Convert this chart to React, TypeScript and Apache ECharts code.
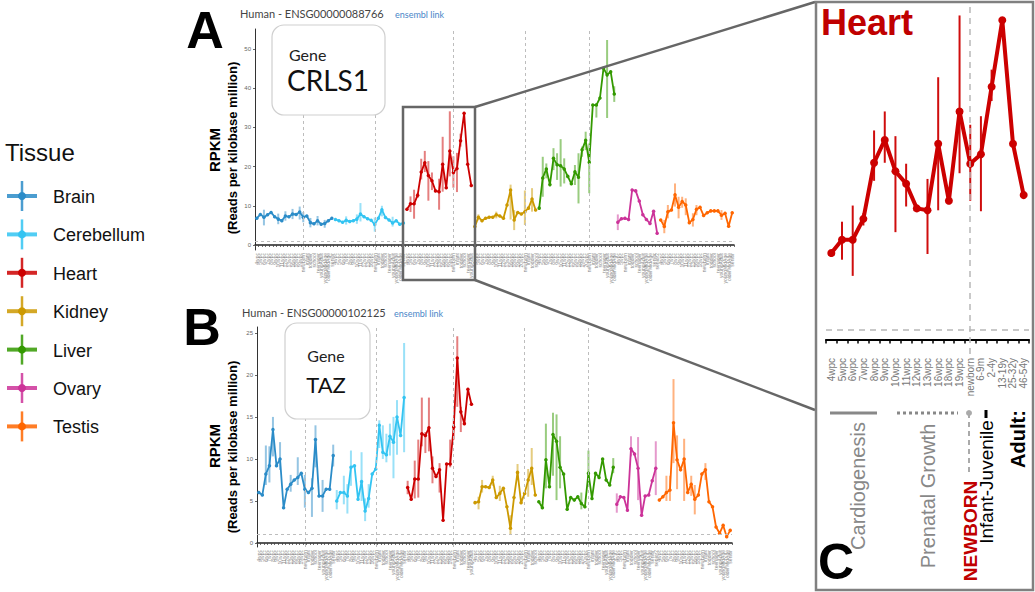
import React, { useEffect, useRef } from 'react';
import * as echarts from 'echarts';

const TISSUES = ['Brain', 'Cerebellum', 'Heart', 'Kidney', 'Liver', 'Ovary', 'Testis'];
const COLORS = ['#2b8cc8', '#33c4f2', '#cc0000', '#cc9900', '#339900', '#cc3399', '#ff6600'];
const STARTS = [0, 22, 42, 61, 79, 101, 113];
const COUNTS = [22, 20, 19, 18, 22, 12, 21];
const NEWBORN_AT = [13, 11, 13, 14, 14, 2, 12];
const DASHED_IDX = [13, 33, 55, 75, 93];
const THRESHOLD = 1;

const PRENATAL = ['4wpc', '5wpc', '6wpc', '7wpc', '8wpc', '9wpc', '10wpc', '11wpc', '12wpc', '13wpc', '16wpc', '18wpc', '19wpc', '20wpc'];
const POSTNATAL = ['newborn', 'infant', 'toddler', 'school', 'teenager', 'youngAdult', 'youngMidAge', 'olderMidAge', 'senior', 'senior2'];
const HEART_STAGES = ['4wpc', '5wpc', '6wpc', '7wpc', '8wpc', '9wpc', '10wpc', '11wpc', '12wpc', '13wpc', '16wpc', '18wpc', '19wpc', 'newborn', '6-9m', '2-4y', '13-19y', '25-32y', '46-54y'];

const A_TICKS = [0, 10, 20, 30, 40, 50];
const B_TICKS = [0, 5, 10, 15, 20, 25];

// Panel A: CRLS1
const A_BRAIN = [6.8, 7.8, 7.1, 7.7, 8.3, 7.2, 6.6, 6.2, 7.4, 7.2, 7.9, 7.8, 8.4, 7.1, 7.4, 5.7, 5.4, 6.2, 5.3, 5.5, 6.2, 6.8];
const A_CEREB = [6.5, 6.2, 5.8, 6.3, 6.0, 6.2, 6.6, 7.9, 7.2, 6.7, 6.3, 5.2, 6.8, 9.0, 7.0, 6.4, 5.6, 6.2, 5.3, 5.6];
const A_HEART = [9.1, 10.5, 10.5, 12.7, 18.6, 21.0, 17.7, 16.4, 13.8, 13.6, 20.6, 14.6, 24.0, 18.5, 19.5, 26.6, 33.6, 20.6, 15.2];
const A_KIDNEY = [4.7, 7.1, 6.2, 6.8, 7.1, 7.1, 7.7, 7.4, 6.8, 10.2, 14.0, 6.4, 8.3, 7.9, 8.5, 9.4, 11.7, 8.9];
const A_LIVER = [9.4, 17.1, 19.4, 15.4, 22.1, 20.5, 20.2, 19.4, 17.5, 15.6, 18.7, 17.3, 24.3, 26.7, 21.1, 35.7, 35.7, 37.5, 45.1, 43.4, 44.2, 38.5];
const A_OVARY = [5.8, 6.7, 6.8, 6.5, 14.0, 13.8, 11.2, 7.7, 6.5, 5.5, 8.6, 3.0];
const A_TESTIS = [6.4, 4.7, 8.5, 8.9, 12.8, 9.6, 11.1, 10.2, 5.7, 6.5, 9.1, 9.6, 7.5, 8.2, 8.7, 8.7, 8.7, 7.6, 8.1, 4.8, 8.2];

const A_ERR_BRAIN = [[2, 5.0, 9.0], [6, 5.3, 8.0], [8, 6.2, 8.6], [10, 6.6, 9.2], [12, 6.5, 9.8], [13, 5.8, 8.4], [15, 4.5, 6.9], [17, 5.0, 7.4], [19, 4.4, 6.4]];
const A_ERR_CEREB = [[3, 5.2, 7.3], [6, 5.4, 7.8], [7, 6.0, 10.7], [11, 3.4, 7.0], [13, 7.3, 10.0], [16, 4.7, 7.2]];
const A_ERR_HEART = [[1, 8.4, 12.4], [2, 6.7, 14.1], [3, 12.0, 13.3], [4, 16.7, 22.0], [5, 18.6, 24.0], [6, 11.3, 21.4], [7, 14.0, 18.5], [9, 9.0, 16.9], [10, 13.6, 27.6], [12, 17.5, 34.1], [13, 14.6, 22.6], [14, 13.5, 23.5], [15, 25.1, 28.4]];
const A_ERR_KIDNEY = [[1, 6.3, 7.8], [6, 6.8, 8.5], [10, 6.5, 15.4], [11, 3.8, 8.9], [14, 5.1, 13.9], [16, 8.5, 14.5]];
const A_ERR_LIVER = [[1, 12.3, 22.5], [2, 17.0, 20.8], [4, 19.1, 24.7], [5, 16.6, 23.4], [6, 14.9, 27.0], [7, 15.7, 22.1], [10, 15.3, 20.4], [11, 10.6, 23.4], [12, 22.5, 25.1], [13, 24.2, 28.9], [14, 13.2, 25.9], [16, 32.5, 36.2], [19, 32.4, 52.3], [21, 36.5, 40.5]];
const A_ERR_OVARY = [[0, 3.8, 7.8]];
const A_ERR_TESTIS = [[1, 3.0, 6.4], [2, 6.8, 10.2], [4, 9.8, 15.7], [5, 6.8, 12.3], [6, 9.5, 12.3], [7, 7.6, 11.9], [9, 4.7, 8.1], [10, 7.6, 10.2], [17, 6.4, 8.9]];

// Panel B: TAZ
const B_BRAIN = [6.0, 5.7, 8.2, 9.2, 13.5, 9.2, 10.0, 4.2, 6.4, 7.0, 7.5, 7.8, 8.3, 6.4, 6.0, 6.5, 12.3, 5.6, 5.6, 6.4, 6.4, 10.4];
const B_CEREB = [5.0, 6.0, 6.0, 5.6, 9.0, 9.2, 5.2, 7.3, 3.8, 5.3, 8.2, 8.8, 14.0, 10.8, 10.5, 12.7, 12.0, 15.0, 12.8, 17.3];
const B_HEART = [6.6, 5.2, 7.6, 7.6, 13.0, 12.8, 13.7, 8.9, 7.9, 8.7, 2.7, 9.4, 9.4, 13.8, 22.0, 15.6, 14.2, 18.3, 16.5];
const B_KIDNEY = [4.8, 4.9, 6.7, 6.7, 6.6, 7.5, 5.4, 5.9, 6.5, 4.3, 1.75, 5.4, 8.4, 4.8, 5.9, 7.5, 8.9, 5.7];
const B_LIVER = [4.9, 4.2, 9.9, 6.7, 12.9, 12.1, 9.0, 8.2, 4.0, 5.4, 5.1, 5.5, 4.7, 4.3, 8.3, 5.3, 8.3, 7.8, 10.0, 7.5, 6.9, 9.0];
const B_OVARY = [4.6, 5.5, 5.4, 3.9, 11.2, 10.6, 8.9, 3.3, 5.6, 5.7, 7.4, 8.9];
const B_TESTIS = [5.1, 5.5, 6.0, 6.3, 14.3, 9.9, 8.7, 10.0, 6.0, 7.0, 5.2, 5.7, 8.2, 8.7, 4.9, 4.3, 1.9, 1.15, 2.1, 0.75, 1.5];

const B_ERR_BRAIN = [[2, 6.9, 11.6], [3, 7.2, 11.5], [4, 10.3, 15.0], [6, 8.7, 12.0], [9, 6.1, 8.1], [11, 6.9, 10.2], [13, 4.2, 8.1], [15, 3.1, 7.7], [16, 9.0, 14.0], [18, 3.7, 7.5], [21, 9.1, 11.7]];
const B_ERR_CEREB = [[0, 4.0, 6.3], [2, 4.6, 8.0], [3, 3.5, 7.0], [4, 6.8, 11.0], [7, 5.0, 10.8], [8, 2.6, 5.3], [9, 4.2, 7.0], [12, 11.3, 14.6], [13, 10.0, 14.0], [14, 9.6, 13.0], [15, 10.4, 14.2], [16, 7.7, 15.0], [17, 10.5, 17.0], [19, 10.8, 23.8]];
const B_ERR_HEART = [[0, 5.8, 7.4], [2, 5.3, 9.8], [3, 5.4, 12.3], [4, 11.5, 17.3], [5, 10.7, 13.2], [6, 10.9, 17.3], [7, 7.1, 10.3], [9, 6.0, 9.5], [12, 9.0, 12.3], [13, 12.3, 14.8], [14, 16.2, 24.6], [15, 13.2, 16.2]];
const B_ERR_KIDNEY = [[1, 4.0, 5.5], [2, 6.0, 7.5], [5, 6.8, 8.0], [7, 5.0, 6.8], [10, 1.0, 3.3], [12, 7.6, 9.4], [15, 5.5, 8.8], [16, 6.9, 11.3]];
const B_ERR_LIVER = [[2, 6.5, 14.2], [4, 8.0, 15.5], [5, 5.1, 15.3], [6, 6.5, 12.7], [12, 4.0, 6.0], [14, 7.2, 11.0], [21, 8.3, 10.1]];
const B_ERR_OVARY = [[0, 3.6, 5.9], [4, 10.3, 12.7], [6, 5.1, 12.6], [11, 5.7, 12.1]];
const B_ERR_TESTIS = [[2, 5.0, 8.0], [3, 5.0, 8.0], [4, 9.5, 19.5], [5, 6.4, 12.8], [7, 5.0, 12.4], [9, 5.6, 8.0], [10, 3.4, 6.9], [13, 7.5, 9.5]];

const PANEL_A = [A_BRAIN, A_CEREB, A_HEART, A_KIDNEY, A_LIVER, A_OVARY, A_TESTIS];
const PANEL_A_ERR = [A_ERR_BRAIN, A_ERR_CEREB, A_ERR_HEART, A_ERR_KIDNEY, A_ERR_LIVER, A_ERR_OVARY, A_ERR_TESTIS];
const PANEL_B = [B_BRAIN, B_CEREB, B_HEART, B_KIDNEY, B_LIVER, B_OVARY, B_TESTIS];
const PANEL_B_ERR = [B_ERR_BRAIN, B_ERR_CEREB, B_ERR_HEART, B_ERR_KIDNEY, B_ERR_LIVER, B_ERR_OVARY, B_ERR_TESTIS];

const CATEGORIES = TISSUES.flatMap((_, k) =>
  Array.from({ length: COUNTS[k] }, (_, i) => (i < NEWBORN_AT[k] ? PRENATAL[i] : POSTNATAL[i - NEWBORN_AT[k]]))
);

const SANS = 'Liberation Sans, Arial, sans-serif';
const ROUND = 'Lato, Noto Sans, sans-serif';
const HEART_RED = '#c00000';

function errSeries(grid: number, color: string, data: number[][], width: number, opacity: number, z: number) {
  return {
    type: 'custom',
    xAxisIndex: grid,
    yAxisIndex: grid,
    silent: true,
    z,
    encode: { x: 0, y: [1, 2] },
    data,
    renderItem: (_p: any, api: any) => {
      const x = api.value(0);
      const a = api.coord([x, api.value(1)]);
      const b = api.coord([x, api.value(2)]);
      return {
        type: 'line',
        shape: { x1: a[0], y1: a[1], x2: b[0], y2: b[1] },
        style: { stroke: color, lineWidth: width, opacity },
      };
    },
  };
}

function panelSeries(grid: number, values: number[][], errs: number[][][]) {
  const out: any[] = [];
  values.forEach((vals, k) => {
    const s = STARTS[k];
    out.push(errSeries(grid, COLORS[k], errs[k].map(([i, lo, hi]) => [s + i, lo, hi]), 2, 0.5, 2));
    const line: any = {
      type: 'line',
      xAxisIndex: grid,
      yAxisIndex: grid,
      data: vals.map((v, i) => [s + i, v]),
      symbol: 'circle',
      symbolSize: 3.5,
      lineStyle: { width: 1.8, color: COLORS[k] },
      itemStyle: { color: COLORS[k] },
      z: 3,
      silent: true,
    };
    if (k === 0) {
      line.markLine = {
        silent: true,
        symbol: 'none',
        label: { show: false },
        lineStyle: { type: [3, 3], color: '#bdbdbd', width: 1 },
        data: [...DASHED_IDX.map((x) => ({ xAxis: x })), { yAxis: THRESHOLD }],
      };
    }
    out.push(line);
  });
  return out;
}

function catAxis(grid: number) {
  return {
    type: 'category',
    gridIndex: grid,
    data: CATEGORIES,
    boundaryGap: true,
    axisLine: { lineStyle: { color: '#222', width: 1.5 } },
    axisTick: { show: true, interval: 0, length: 2, lineStyle: { color: '#444', width: 0.8 } },
    axisLabel: { interval: 0, rotate: 90, fontSize: 5, color: '#888', margin: 3, fontFamily: SANS },
    splitLine: { show: false },
  };
}

function valAxis(grid: number, min: number, max: number, ticks: number[]) {
  return {
    type: 'value',
    gridIndex: grid,
    min,
    max,
    axisLine: { show: true, lineStyle: { color: '#333', width: 1 } },
    axisTick: { show: true, length: 2, customValues: ticks, lineStyle: { color: '#666' } },
    axisLabel: { fontSize: 6, color: '#666', margin: 4, customValues: ticks, fontFamily: SANS },
    splitLine: { show: false },
  };
}

function buildGraphics() {
  const g: any[] = [];
  // panel letters
  g.push({ type: 'text', x: 205, y: 30, style: { text: 'A', font: `bold 52px ${SANS}`, fill: '#000', align: 'center', verticalAlign: 'middle' } });
  g.push({ type: 'text', x: 202, y: 327, style: { text: 'B', font: `bold 52px ${SANS}`, fill: '#000', align: 'center', verticalAlign: 'middle' } });
  // y titles
  [[150, 148], [446, 447]].forEach(([c1, c2]) => {
    g.push({ type: 'text', x: 214, y: c1, rotation: Math.PI / 2, style: { text: 'RPKM', font: `bold 15px ${SANS}`, fill: '#000', align: 'center', verticalAlign: 'middle' } });
    g.push({ type: 'text', x: 232, y: c2, rotation: Math.PI / 2, style: { text: '(Reads per kilobase million)', font: `bold 13px ${SANS}`, fill: '#000', align: 'center', verticalAlign: 'middle' } });
  });
  // panel titles
  g.push({ type: 'text', x: 240, y: 13, style: { text: 'Human - ENSG00000088766', font: `11px ${ROUND}`, fill: '#444', align: 'left', verticalAlign: 'middle' } });
  g.push({ type: 'text', x: 395, y: 14, style: { text: 'ensembl link', font: `9px ${ROUND}`, fill: '#4a86c8', align: 'left', verticalAlign: 'middle' } });
  g.push({ type: 'text', x: 242, y: 312, style: { text: 'Human - ENSG00000102125', font: `11px ${ROUND}`, fill: '#444', align: 'left', verticalAlign: 'middle' } });
  g.push({ type: 'text', x: 394, y: 313, style: { text: 'ensembl link', font: `9px ${ROUND}`, fill: '#4a86c8', align: 'left', verticalAlign: 'middle' } });
  // gene boxes
  g.push({ type: 'rect', shape: { x: 272, y: 25, width: 113, height: 90, r: 12 }, style: { fill: '#fff', stroke: '#cfcfcf', lineWidth: 1.2 }, z: 50 });
  g.push({ type: 'text', x: 289, y: 54, z: 51, style: { text: 'Gene', font: `16px ${ROUND}`, fill: '#222', align: 'left', verticalAlign: 'middle' } });
  g.push({ type: 'text', x: 287, y: 80, z: 51, style: { text: 'CRLS1', font: `28px ${ROUND}`, fill: '#111', align: 'left', verticalAlign: 'middle' } });
  g.push({ type: 'rect', shape: { x: 285, y: 323, width: 85, height: 96, r: 12 }, style: { fill: '#fff', stroke: '#cfcfcf', lineWidth: 1.2 }, z: 50 });
  g.push({ type: 'text', x: 326, y: 355, z: 51, style: { text: 'Gene', font: `16px ${ROUND}`, fill: '#222', align: 'center', verticalAlign: 'middle' } });
  g.push({ type: 'text', x: 326, y: 384, z: 51, style: { text: 'TAZ', font: `22px ${ROUND}`, fill: '#111', align: 'center', verticalAlign: 'middle' } });
  // legend
  g.push({ type: 'text', x: 5, y: 152, style: { text: 'Tissue', font: `24px ${SANS}`, fill: '#111', align: 'left', verticalAlign: 'middle' } });
  TISSUES.forEach((t, i) => {
    const cy = 196 + i * 38.4;
    const c = COLORS[i];
    g.push({ type: 'line', shape: { x1: 7, y1: cy, x2: 37, y2: cy }, style: { stroke: c, lineWidth: 4, opacity: 0.85 } });
    g.push({ type: 'line', shape: { x1: 22, y1: cy - 15, x2: 22, y2: cy + 15 }, style: { stroke: c, lineWidth: 2.5, opacity: 0.85 } });
    g.push({ type: 'circle', shape: { cx: 22, cy, r: 4 }, style: { fill: c } });
    g.push({ type: 'text', x: 53, y: cy + 1, style: { text: t, font: `18px ${SANS}`, fill: '#111', align: 'left', verticalAlign: 'middle' } });
  });
  // zoom rectangle & connectors
  g.push({ type: 'rect', z: 100, shape: { x: 403, y: 107, width: 72, height: 173 }, style: { fill: 'none', stroke: '#666', lineWidth: 2.5 } });
  g.push({ type: 'line', z: 100, shape: { x1: 475, y1: 107, x2: 815, y2: 2 }, style: { stroke: '#666', lineWidth: 2.5 } });
  g.push({ type: 'line', z: 100, shape: { x1: 475, y1: 280, x2: 815, y2: 410 }, style: { stroke: '#666', lineWidth: 2.5 } });
  // panel C frame
  g.push({ type: 'rect', z: 100, shape: { x: 816, y: 2, width: 217, height: 588 }, style: { fill: 'none', stroke: '#808080', lineWidth: 2.5 } });
  g.push({ type: 'text', x: 821, y: 22, style: { text: 'Heart', font: `bold 36px ${SANS}`, fill: HEART_RED, align: 'left', verticalAlign: 'middle' } });
  g.push({ type: 'text', x: 836, y: 562, style: { text: 'C', font: `bold 50px ${SANS}`, fill: '#000', align: 'center', verticalAlign: 'middle' } });
  // C annotations
  g.push({ type: 'line', shape: { x1: 830, y1: 413, x2: 877, y2: 413 }, style: { stroke: '#888', lineWidth: 3 } });
  g.push({ type: 'text', x: 858, y: 486, rotation: Math.PI / 2, style: { text: 'Cardiogenesis', font: `20px ${SANS}`, fill: '#888', align: 'center', verticalAlign: 'middle' } });
  g.push({ type: 'line', shape: { x1: 897, y1: 413, x2: 958, y2: 413 }, style: { stroke: '#888', lineWidth: 3, lineDash: [3, 3] } });
  g.push({ type: 'text', x: 928, y: 496, rotation: Math.PI / 2, style: { text: 'Prenatal Growth', font: `20px ${SANS}`, fill: '#888', align: 'center', verticalAlign: 'middle' } });
  g.push({ type: 'line', shape: { x1: 969, y1: 413, x2: 969, y2: 475 }, style: { stroke: '#aaa', lineWidth: 2, lineDash: [5, 4] } });
  g.push({ type: 'circle', shape: { cx: 969, cy: 413, r: 3 }, style: { fill: '#aaa' } });
  g.push({ type: 'text', x: 970, y: 531, rotation: Math.PI / 2, style: { text: 'NEWBORN', font: `bold 19px ${SANS}`, fill: HEART_RED, align: 'center', verticalAlign: 'middle' } });
  g.push({ type: 'line', shape: { x1: 986, y1: 410, x2: 986, y2: 418 }, style: { stroke: '#000', lineWidth: 3 } });
  g.push({ type: 'text', x: 986, y: 482, rotation: Math.PI / 2, style: { text: 'Infant-Juvenile', font: `19px ${SANS}`, fill: '#000', align: 'center', verticalAlign: 'middle' } });
  g.push({ type: 'text', x: 1018, y: 439, rotation: Math.PI / 2, style: { text: 'Adult:', font: `bold 20px ${SANS}`, fill: '#000', align: 'center', verticalAlign: 'middle' } });
  return g;
}

export default function App() {
  const ref = useRef<HTMLDivElement>(null);
  useEffect(() => {
    if (!ref.current) return;
    const chart = echarts.init(ref.current, undefined, { renderer: 'svg' });
    const series: any[] = [
      ...panelSeries(0, PANEL_A, PANEL_A_ERR),
      ...panelSeries(1, PANEL_B, PANEL_B_ERR),
      errSeries(2, '#cc0000', A_ERR_HEART, 2, 0.95, 2),
      {
        type: 'line',
        xAxisIndex: 2,
        yAxisIndex: 2,
        data: A_HEART,
        symbol: 'circle',
        symbolSize: 8,
        lineStyle: { width: 4, color: '#cc0000' },
        itemStyle: { color: '#cc0000' },
        z: 3,
        silent: true,
        markLine: {
          silent: true,
          symbol: 'none',
          label: { show: false },
          lineStyle: { type: [6, 5], color: '#b8b8b8', width: 1.5 },
          data: [{ xAxis: 13 }, { yAxis: THRESHOLD }],
        },
      },
    ];
    chart.setOption({
      animation: false,
      backgroundColor: '#fff',
      textStyle: { fontFamily: SANS },
      grid: [
        { left: 255, top: 29, width: 479, height: 221 },
        { left: 257, top: 327, width: 475, height: 220 },
        { left: 826, top: 5, width: 203, height: 349 },
      ],
      xAxis: [
        catAxis(0),
        catAxis(1),
        {
          type: 'category',
          gridIndex: 2,
          data: HEART_STAGES,
          boundaryGap: true,
          axisLine: { lineStyle: { color: '#000', width: 2 } },
          axisTick: { show: true, interval: 0, length: 4, lineStyle: { color: '#000', width: 1.5 } },
          axisLabel: { interval: 0, rotate: 90, fontSize: 10, color: '#777', margin: 4, fontFamily: SANS },
        },
      ],
      yAxis: [
        valAxis(0, -1.28, 55.1, A_TICKS),
        valAxis(1, -0.48, 25.7, B_TICKS),
        { type: 'value', gridIndex: 2, min: -1.52, max: 35.2, show: false, splitLine: { show: false } },
      ],
      series,
      graphic: buildGraphics(),
    });
    return () => chart.dispose();
  }, []);
  return <div ref={ref} style={{ position: 'fixed', left: 0, top: 0, width: 1035, height: 592, background: '#fff' }} />;
}
